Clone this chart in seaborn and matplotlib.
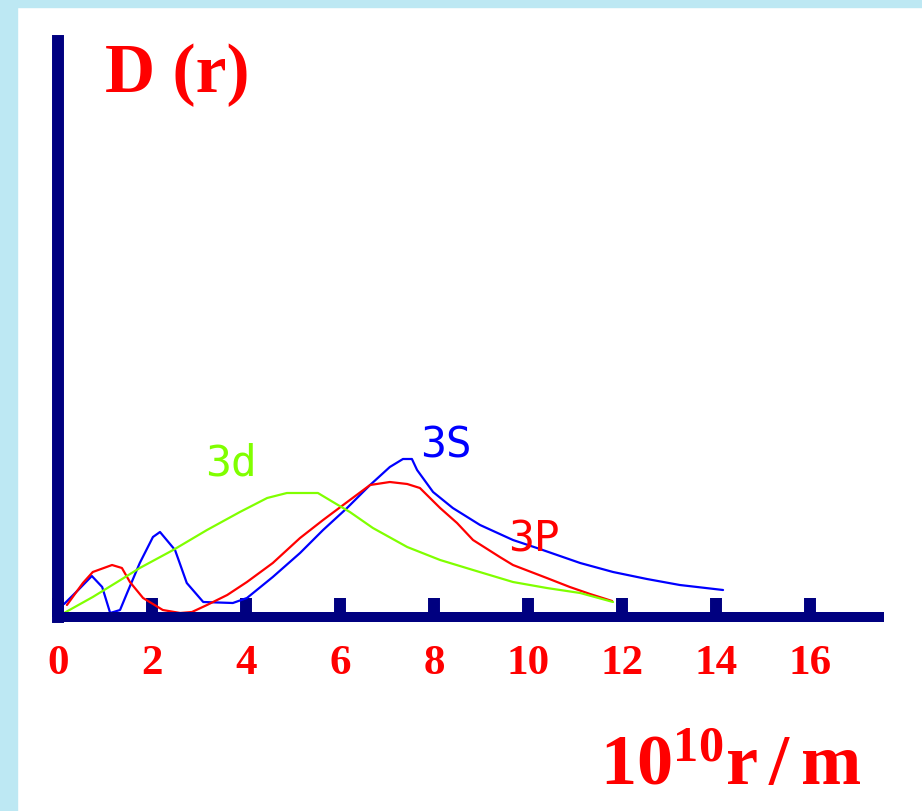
import numpy as np
import pandas as pd
import matplotlib
matplotlib.use("Agg")
import matplotlib.pyplot as plt
import seaborn as sns
from matplotlib.patches import Rectangle

sns.set_style("white")
plt.rcParams["mathtext.fontset"] = "custom"
plt.rcParams["mathtext.bf"] = "Liberation Serif:bold"
plt.rcParams["mathtext.rm"] = "Liberation Serif:bold"

# radial distribution curves (r in 1e-10 m, D(r) arbitrary units)
r_3s = [0.13, 0.43, 0.72, 0.94, 1.11, 1.32, 1.47, 1.74, 2.02, 2.17, 2.49, 2.74, 3.09,
        3.72, 4.02, 4.57, 5.15, 5.64, 6.15, 6.64, 7.06, 7.34, 7.53, 7.64, 7.98, 8.40,
        8.98, 9.68, 10.19, 11.11, 11.81, 12.53, 13.23, 14.15]
d_3s = [1.3, 2.7, 4.1, 3.0, 0.4, 0.7, 2.4, 5.4, 8.0, 8.5, 6.7, 3.4, 1.5,
        1.4, 1.9, 4.0, 6.4, 8.7, 10.9, 13.2, 15.0, 15.8, 15.8, 14.7, 12.5, 10.9,
        9.2, 7.7, 6.9, 5.4, 4.5, 3.8, 3.2, 2.7]

r_3p = [0.19, 0.53, 0.74, 1.15, 1.36, 1.53, 1.81, 2.23, 2.60, 2.85, 3.17, 3.60, 4.02,
        4.57, 5.15, 5.64, 6.21, 6.64, 7.06, 7.43, 7.70, 8.13, 8.49, 8.83, 9.40, 9.68,
        10.40, 10.89, 11.32, 11.79]
d_3p = [1.2, 3.4, 4.5, 5.2, 4.9, 3.5, 1.9, 0.7, 0.4, 0.5, 1.2, 2.2, 3.5,
        5.4, 7.9, 9.7, 11.7, 13.2, 13.5, 13.3, 12.9, 10.9, 9.4, 7.7, 6.0, 5.2,
        3.9, 3.0, 2.3, 1.6]

r_3d = [0.13, 0.32, 0.74, 1.26, 1.74, 2.45, 3.17, 3.87, 4.45, 4.87, 5.53, 5.85, 6.21,
        6.70, 7.43, 8.13, 8.83, 9.68, 10.40, 11.11, 11.81]
d_3d = [0.4, 0.9, 2.0, 3.5, 4.9, 6.7, 8.7, 10.5, 11.9, 12.4, 12.4, 11.5, 10.5,
        8.9, 7.0, 5.7, 4.7, 3.5, 2.9, 2.4, 1.5]

x_ticks = [0, 2, 4, 6, 8, 10, 12, 14, 16]

df = pd.concat([
    pd.DataFrame({"r": r_3s, "D": d_3s, "orbital": "3S"}),
    pd.DataFrame({"r": r_3p, "D": d_3p, "orbital": "3P"}),
    pd.DataFrame({"r": r_3d, "D": d_3d, "orbital": "3d"}),
])
colors = {"3S": "#0000ff", "3P": "#ff0000", "3d": "#80ff00"}
navy = "#000080"

fig = plt.figure(figsize=(9.22, 8.11), dpi=100)
fig.patch.set_facecolor("white")
# light blue frame on the left and top
fig.patches.append(Rectangle((0, 0), 17 / 922, 1, transform=fig.transFigure,
                             color="#bde8f3", zorder=-1))
fig.patches.append(Rectangle((0, 1 - 7 / 811), 1, 7 / 811, transform=fig.transFigure,
                             color="#bde8f3", zorder=-1))

ax = fig.add_axes([58 / 922, (811 - 617) / 811, (879 - 58) / 922, (617 - 41) / 811])
sns.lineplot(data=df, x="r", y="D", hue="orbital", palette=colors, estimator=None,
             linewidth=1.6, legend=False, ax=ax)

ax.set_xlim(0, (879 - 58) / 47)
ax.set_ylim(0, (617 - 41) / 10)
ax.set_xticks(x_ticks)
ax.set_xticklabels([str(t) for t in x_ticks], color="red", fontsize=31,
                   family="Liberation Serif", fontweight="bold")
ax.set_yticks([])
ax.tick_params(axis="x", bottom=True, direction="in", length=14, width=8.6,
               color=navy, pad=20)
ax.set_xlabel("")
ax.set_ylabel("")

for side in ["top", "right"]:
    ax.spines[side].set_visible(False)
ax.spines["left"].set_linewidth(8.6)
ax.spines["bottom"].set_linewidth(7.2)
for side in ["left", "bottom"]:
    ax.spines[side].set_color(navy)
    ax.spines[side].set_capstyle("projecting")

ax.text(3.13, 14.2, "3d", color=colors["3d"], fontsize=31, family="DejaVu Sans Mono")
ax.text(7.70, 15.9, "3S", color=colors["3S"], fontsize=31, family="DejaVu Sans Mono")
ax.text(9.57, 6.5, "3P", color=colors["3P"], fontsize=31, family="DejaVu Sans Mono")

fig.text(105 / 922, 1 - 92 / 811, "D (r)", color="red", fontsize=50,
         family="Liberation Serif", fontweight="bold", va="baseline")
fig.text(600 / 922, 1 - 785 / 811, r"$\mathbf{10^{10}r\,/\,m}$", color="red",
         fontsize=52, va="baseline")

fig.savefig("out.png", dpi=100, facecolor="white")
